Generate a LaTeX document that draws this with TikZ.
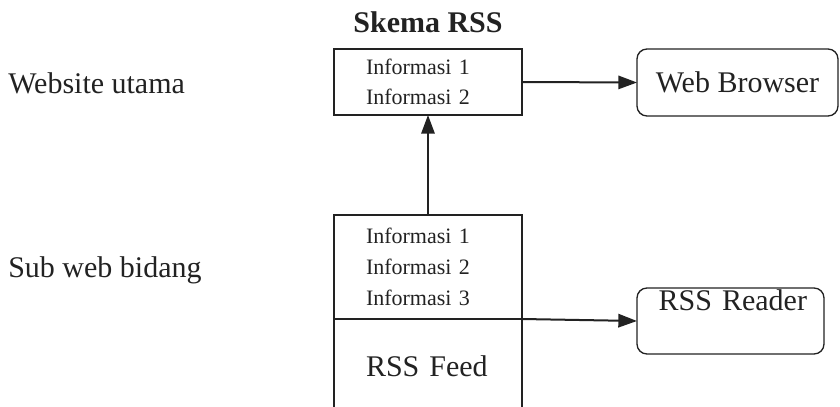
\documentclass[tikz,border=0pt]{standalone}
\usepackage{fontspec}
\setmainfont{Liberation Serif}
\usetikzlibrary{positioning,arrows.meta}
\definecolor{ink}{HTML}{222222}
\tikzset{
  infobox/.style={draw=ink, text=ink, line width=1pt, outer sep=0pt, inner ysep=0pt, inner xsep=24pt, text width=93pt, align=left, font=\fontsize{16.5}{23}\selectfont},
  clientbox/.style={draw=ink, text=ink, line width=1pt, rounded corners=7.5pt, outer sep=0pt, font=\fontsize{22.5}{27}\selectfont},
  sidelabel/.style={anchor=base west, inner sep=0pt, text=ink, font=\fontsize{22.5}{27}\selectfont},
  flow/.style={draw=ink, line width=1.5pt, -{Triangle[length=14pt,width=10pt]}}
}
\begin{document}
\begin{tikzpicture}[x=0.75pt,y=-0.75pt]
\useasboundingbox (0,0) rectangle (840,407);
\clip (0,0) rectangle (840,407);
\node[anchor=base, inner sep=0pt, text=ink, font=\fontsize{22.5}{27}\selectfont\bfseries] (title) at (428,32) {Skema RSS};
\node[sidelabel] (mainsite) at (8,93) {Website utama};
\node[sidelabel] (subsite) at (8,277) {Sub web bidang};
\node[infobox, minimum height=49.5pt] (infoMain) at (428,82) {Informasi 1\\Informasi 2};
\node[infobox, minimum height=78pt] (infoSub) at (428,267) {Informasi 1\\Informasi 2\\Informasi 3};
\node[infobox, font=\fontsize{22.5}{27}\selectfont, minimum height=70.2pt, below=0pt of infoSub] (feed) {RSS Feed};
\node[clientbox, minimum width=150.75pt, minimum height=50.25pt] (browser) at (737.5,82.5) {Web Browser};
\node[clientbox, inner ysep=1pt, inner xsep=12.75pt, text width=114.75pt, align=right, text depth=31.9pt, minimum height=49.5pt] (reader) at (730.5,321) {RSS Reader};
\draw[flow] (infoMain.east) -- (browser.west);
\draw[flow] (infoSub.north) -- (infoMain.south);
\draw[flow] (infoSub.south east) -- (reader.west);
\end{tikzpicture}
\end{document}
